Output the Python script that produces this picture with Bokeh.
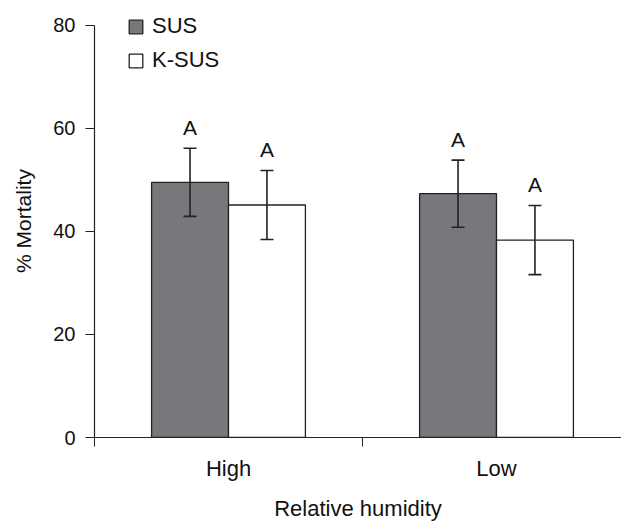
from bokeh.plotting import figure
from bokeh.models import (Range1d, FixedTicker, ColumnDataSource, Whisker, TeeHead,
                          Legend, LegendItem)
from bokeh.core.properties import value
from bokeh.embed import file_html
from bokeh.resources import INLINE

# ---- data ----
categories = ["High", "Low"]
series_names = ["SUS", "K-SUS"]
sus_mean = [49.5, 47.3]
sus_se = [6.6, 6.5]
ksus_mean = [45.1, 38.3]
ksus_se = [6.7, 6.7]
sus_letters = ["A", "A"]
ksus_letters = ["A", "A"]
y_ticks = [0, 20, 40, 60, 80]

FONT = "Liberation Sans"
DARK = "#222222"
GRAY = "#77787b"
BAR_W = 0.287

centers = [i + 0.5 for i in range(len(categories))]

p = figure(width=621, height=523, output_backend="svg", toolbar_location=None,
           x_range=Range1d(0, 527 / 268), y_range=Range1d(0, 84),
           min_border_left=94, min_border_right=0, min_border_top=4,
           min_border_bottom=82)
p.outline_line_color = None
p.xgrid.visible = False
p.ygrid.visible = False
p.background_fill_color = "white"

def make_src(means, ses, letters, shift):
    xs = [c + shift for c in centers]
    return ColumnDataSource(dict(
        x=xs, top=means,
        upper=[m + s for m, s in zip(means, ses)],
        lower=[m - s for m, s in zip(means, ses)],
        ty=[m + s + 4.0 for m, s in zip(means, ses)],
        letter=letters,
    ))

src_sus = make_src(sus_mean, sus_se, sus_letters, -BAR_W / 2)
src_ksus = make_src(ksus_mean, ksus_se, ksus_letters, BAR_W / 2)

r_sus = p.vbar(x="x", top="top", width=BAR_W, bottom=0, source=src_sus,
               fill_color=GRAY, line_color=DARK, line_width=1.3)
r_ksus = p.vbar(x="x", top="top", width=BAR_W, bottom=0, source=src_ksus,
                fill_color="white", line_color=DARK, line_width=1.3)

for src in (src_sus, src_ksus):
    w = Whisker(base="x", upper="upper", lower="lower", source=src,
                level="overlay", line_color=DARK, line_width=1.6,
                upper_head=TeeHead(size=13, line_color=DARK, line_width=1.6),
                lower_head=TeeHead(size=13, line_color=DARK, line_width=1.6))
    p.add_layout(w)
    p.text(x="x", y="ty", text="letter", source=src, text_align="center",
           text_baseline="alphabetic", text_font=value(FONT),
           text_font_size="21px", text_color="#111111")

# axes
for ax in (p.xaxis[0], p.yaxis[0]):
    ax.axis_line_color = DARK
    ax.axis_line_width = 1.2
    ax.major_tick_line_color = DARK
    ax.minor_tick_line_color = DARK
    ax.major_label_text_font = FONT
    ax.major_label_text_color = "#111111"
    ax.axis_label_text_font = FONT
    ax.axis_label_text_font_style = "normal"
    ax.axis_label_text_color = "#111111"

p.yaxis.ticker = FixedTicker(ticks=y_ticks)
p.yaxis.bounds = (0, 80)
p.yaxis.major_tick_out = 9
p.yaxis.major_tick_in = 0
p.yaxis.minor_tick_out = 0
p.yaxis.minor_tick_in = 0
p.yaxis.major_label_standoff = 10
p.yaxis.major_label_text_font_size = "20px"
p.yaxis.axis_label = "% Mortality"
p.yaxis.axis_label_text_font_size = "21px"
p.yaxis.axis_label_standoff = 15

p.xaxis.ticker = FixedTicker(ticks=centers,
                             minor_ticks=list(range(len(categories) + 1)))
p.xaxis.major_label_overrides = {c: n for c, n in zip(centers, categories)}
p.xaxis.major_tick_out = 0
p.xaxis.major_tick_in = 0
p.xaxis.minor_tick_out = 9
p.xaxis.minor_tick_in = 0
p.xaxis.major_label_standoff = 9
p.xaxis.major_label_text_font_size = "22px"
p.xaxis.axis_label = "Relative humidity"
p.xaxis.axis_label_text_font_size = "22px"
p.xaxis.axis_label_standoff = 12

legend = Legend(items=[LegendItem(label=series_names[0], renderers=[r_sus]),
                       LegendItem(label=series_names[1], renderers=[r_ksus])],
                location=(33, 364), orientation="vertical",
                glyph_width=17, glyph_height=17, label_height=17,
                label_standoff=8, spacing=8, padding=0, margin=0,
                border_line_color=None, background_fill_alpha=0,
                label_text_font=FONT, label_text_font_size="22px",
                label_text_color="#111111")
p.add_layout(legend)

open("out.html", "w").write(file_html(p, INLINE))
